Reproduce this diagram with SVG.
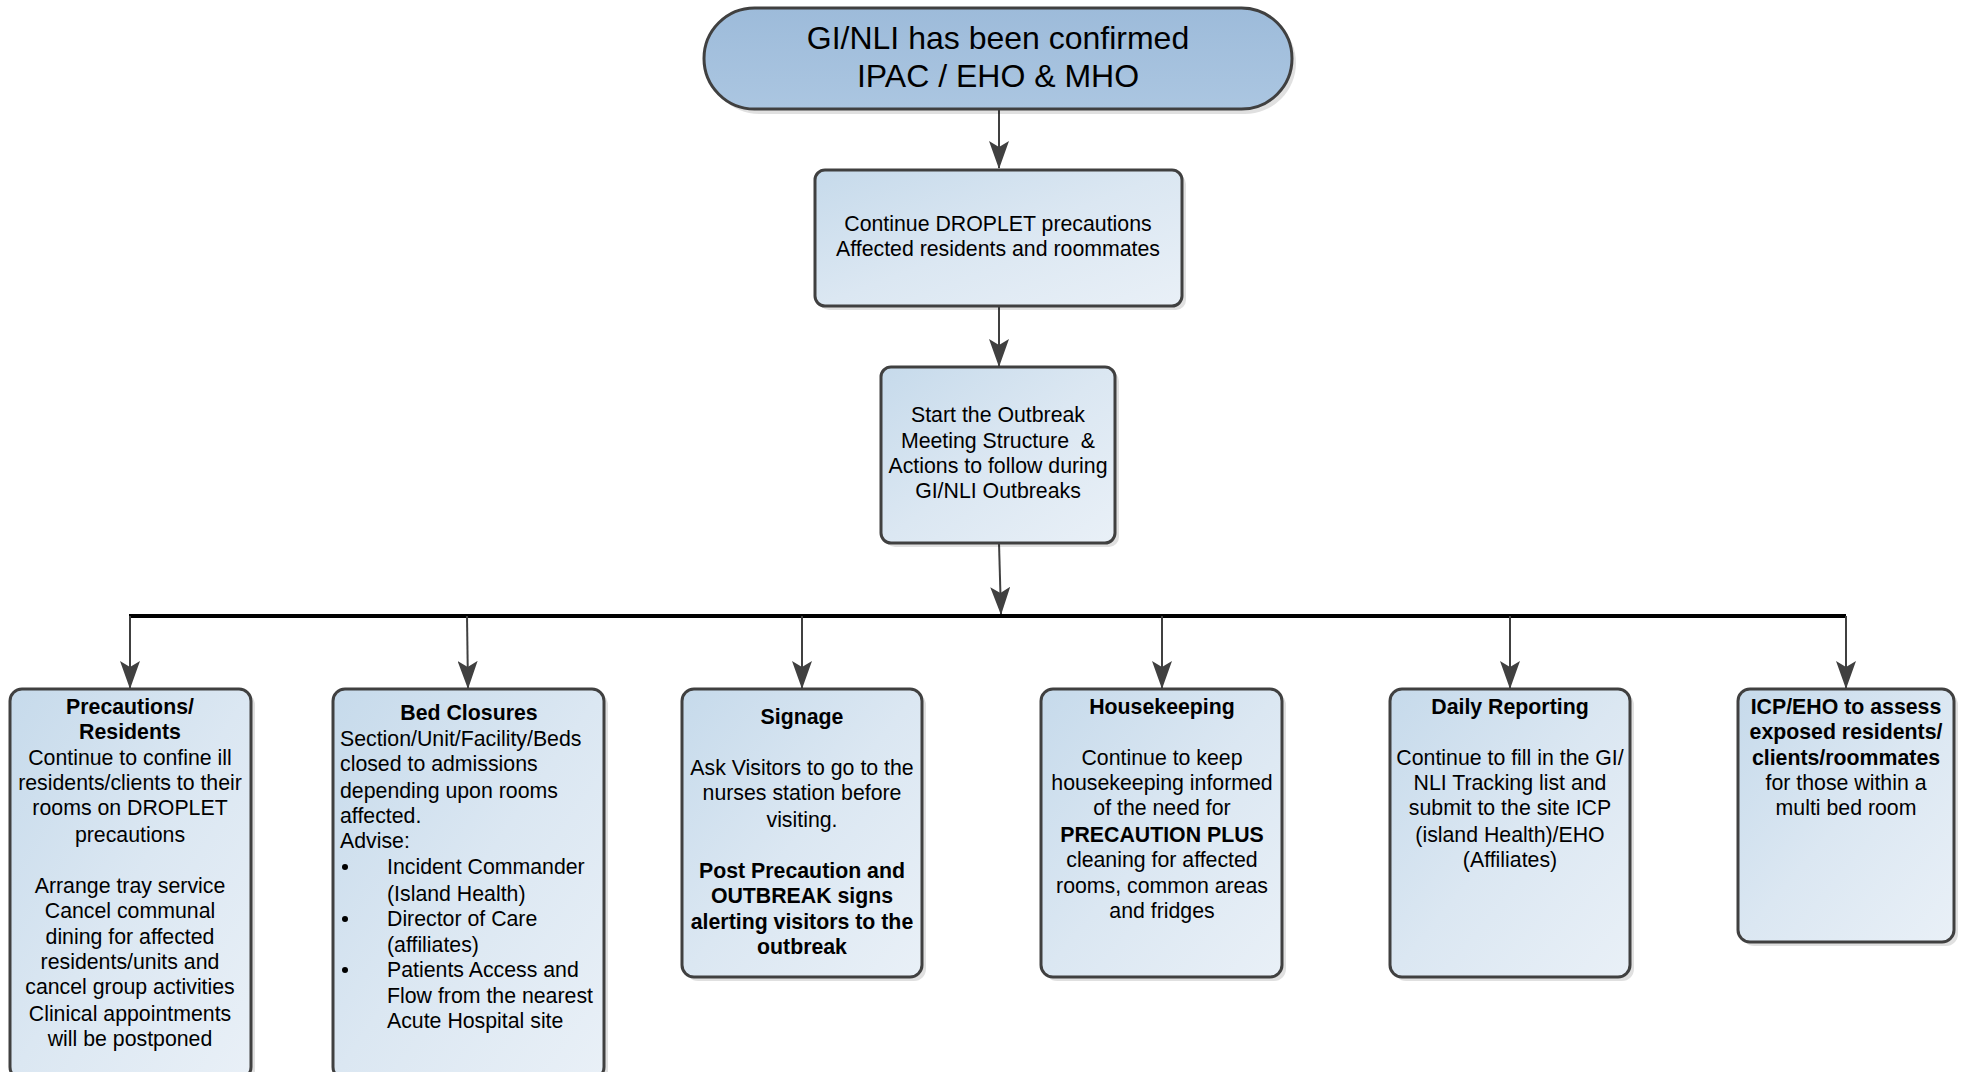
<svg xmlns="http://www.w3.org/2000/svg" width="1965" height="1072" viewBox="0 0 1965 1072">
<defs>
<linearGradient id="gBox" x1="0" y1="0" x2="1" y2="1">
<stop offset="0" stop-color="#c6daeb"/>
<stop offset="0.5" stop-color="#dbe7f2"/>
<stop offset="1" stop-color="#e9f0f7"/>
</linearGradient>
<linearGradient id="gTerm" x1="0" y1="0" x2="0" y2="1">
<stop offset="0" stop-color="#9dbbda"/>
<stop offset="1" stop-color="#abc6e1"/>
</linearGradient>
<marker id="arr" markerWidth="28" markerHeight="20" refX="27" refY="10" orient="auto" markerUnits="userSpaceOnUse" viewBox="0 0 28 20">
<path d="M0,0 L28,10 L0,20 L6,10 Z" fill="#404040"/>
</marker>
<style>
.box{fill:url(#gBox);stroke:#404040;stroke-width:3}
.shadow{fill:#000;opacity:0.12}
.term{fill:url(#gTerm);stroke:#404040;stroke-width:3}
.t{font-family:"Liberation Sans",Arial,sans-serif;font-size:21.3px;fill:#000}
.c{text-anchor:middle}
.b{font-weight:bold}
.big{font-size:32px}
.conn{stroke:#404040;stroke-width:2;fill:none}
.bus{stroke:#000;stroke-width:4;fill:none}
</style>
</defs>

<g id="connectors">
<line class="conn" x1="999" y1="109" x2="999" y2="168" marker-end="url(#arr)"/>
<line class="conn" x1="999" y1="306" x2="999" y2="366" marker-end="url(#arr)"/>
<line class="conn" x1="999" y1="543" x2="1001" y2="614" marker-end="url(#arr)"/>
<line class="bus" x1="129" y1="616" x2="1846" y2="616"/>
<line class="conn" x1="130" y1="616" x2="130" y2="688" marker-end="url(#arr)"/>
<line class="conn" x1="467" y1="616" x2="468" y2="688" marker-end="url(#arr)"/>
<line class="conn" x1="802" y1="616" x2="802" y2="688" marker-end="url(#arr)"/>
<line class="conn" x1="1162" y1="616" x2="1162" y2="688" marker-end="url(#arr)"/>
<line class="conn" x1="1510" y1="616" x2="1510" y2="688" marker-end="url(#arr)"/>
<line class="conn" x1="1846" y1="616" x2="1846" y2="688" marker-end="url(#arr)"/>
</g>

<g id="start">
<rect class="shadow" x="708" y="12" width="588" height="102" rx="51"/>
<rect class="term" x="704" y="8" width="588" height="101" rx="50.5"/>
<text class="t c big" x="998" y="49">GI/NLI has been confirmed</text>
<text class="t c big" x="998" y="87">IPAC / EHO &amp; MHO</text>
</g>

<g id="droplet">
<rect class="shadow" x="819" y="174" width="367" height="136" rx="10"/>
<rect class="box" x="815" y="170" width="367" height="136" rx="10"/>
<text class="t c" x="998" y="231">Continue DROPLET precautions</text>
<text class="t c" x="998" y="256">Affected residents and roommates</text>
</g>

<g id="outbreak-meeting">
<rect class="shadow" x="885" y="371" width="234" height="176" rx="10"/>
<rect class="box" x="881" y="367" width="234" height="176" rx="10"/>
<text class="t c" x="998" y="422">Start the Outbreak</text>
<text class="t c" x="998" y="448" xml:space="preserve">Meeting Structure  &amp;</text>
<text class="t c" x="998" y="473">Actions to follow during</text>
<text class="t c" x="998" y="498">GI/NLI Outbreaks</text>
</g>

<g id="precautions">
<rect class="shadow" x="14" y="693" width="241" height="390" rx="12"/>
<rect class="box" x="10" y="689" width="241" height="390" rx="12"/>
<text class="t c b" x="130" y="714">Precautions/</text>
<text class="t c b" x="130" y="739">Residents</text>
<text class="t c" x="130" y="765">Continue to confine ill</text>
<text class="t c" x="130" y="790">residents/clients to their</text>
<text class="t c" x="130" y="815">rooms on DROPLET</text>
<text class="t c" x="130" y="842">precautions</text>
<text class="t c" x="130" y="893">Arrange tray service</text>
<text class="t c" x="130" y="918">Cancel communal</text>
<text class="t c" x="130" y="944">dining for affected</text>
<text class="t c" x="130" y="969">residents/units and</text>
<text class="t c" x="130" y="994">cancel group activities</text>
<text class="t c" x="130" y="1021">Clinical appointments</text>
<text class="t c" x="130" y="1046">will be postponed</text>
</g>

<g id="bed-closures">
<rect class="shadow" x="337" y="693" width="271" height="390" rx="12"/>
<rect class="box" x="333" y="689" width="271" height="390" rx="12"/>
<text class="t c b" x="469" y="720">Bed Closures</text>
<text class="t" x="340" y="746">Section/Unit/Facility/Beds</text>
<text class="t" x="340" y="771">closed to admissions</text>
<text class="t" x="340" y="798">depending upon rooms</text>
<text class="t" x="340" y="823">affected.</text>
<text class="t" x="340" y="848">Advise:</text>
<circle cx="345" cy="867" r="3" fill="#000"/>
<text class="t" x="387" y="874">Incident Commander</text>
<text class="t" x="387" y="901">(Island Health)</text>
<circle cx="345" cy="919" r="3" fill="#000"/>
<text class="t" x="387" y="926">Director of Care</text>
<text class="t" x="387" y="952">(affiliates)</text>
<circle cx="345" cy="970" r="3" fill="#000"/>
<text class="t" x="387" y="977">Patients Access and</text>
<text class="t" x="387" y="1003">Flow from the nearest</text>
<text class="t" x="387" y="1028">Acute Hospital site</text>
</g>

<g id="signage">
<rect class="shadow" x="686" y="693" width="240" height="288" rx="12"/>
<rect class="box" x="682" y="689" width="240" height="288" rx="12"/>
<text class="t c b" x="802" y="724">Signage</text>
<text class="t c" x="802" y="775">Ask Visitors to go to the</text>
<text class="t c" x="802" y="800">nurses station before</text>
<text class="t c" x="802" y="827">visiting.</text>
<text class="t c b" x="802" y="878">Post Precaution and</text>
<text class="t c b" x="802" y="903">OUTBREAK signs</text>
<text class="t c b" x="802" y="929">alerting visitors to the</text>
<text class="t c b" x="802" y="954">outbreak</text>
</g>

<g id="housekeeping">
<rect class="shadow" x="1045" y="693" width="241" height="288" rx="12"/>
<rect class="box" x="1041" y="689" width="241" height="288" rx="12"/>
<text class="t c b" x="1162" y="714">Housekeeping</text>
<text class="t c" x="1162" y="765">Continue to keep</text>
<text class="t c" x="1162" y="790">housekeeping informed</text>
<text class="t c" x="1162" y="815">of the need for</text>
<text class="t c b" x="1162" y="842">PRECAUTION PLUS</text>
<text class="t c" x="1162" y="867">cleaning for affected</text>
<text class="t c" x="1162" y="893">rooms, common areas</text>
<text class="t c" x="1162" y="918">and fridges</text>
</g>

<g id="daily-reporting">
<rect class="shadow" x="1394" y="693" width="240" height="288" rx="12"/>
<rect class="box" x="1390" y="689" width="240" height="288" rx="12"/>
<text class="t c b" x="1510" y="714">Daily Reporting</text>
<text class="t c" x="1510" y="765">Continue to fill in the GI/</text>
<text class="t c" x="1510" y="790">NLI Tracking list and</text>
<text class="t c" x="1510" y="815">submit to the site ICP</text>
<text class="t c" x="1510" y="842">(island Health)/EHO</text>
<text class="t c" x="1510" y="867">(Affiliates)</text>
</g>

<g id="icp-eho">
<rect class="shadow" x="1742" y="693" width="216" height="253" rx="12"/>
<rect class="box" x="1738" y="689" width="216" height="253" rx="12"/>
<text class="t c b" x="1846" y="714">ICP/EHO to assess</text>
<text class="t c b" x="1846" y="739">exposed residents/</text>
<text class="t c b" x="1846" y="765">clients/roommates</text>
<text class="t c" x="1846" y="790">for those within a</text>
<text class="t c" x="1846" y="815">multi bed room</text>
</g>
</svg>
